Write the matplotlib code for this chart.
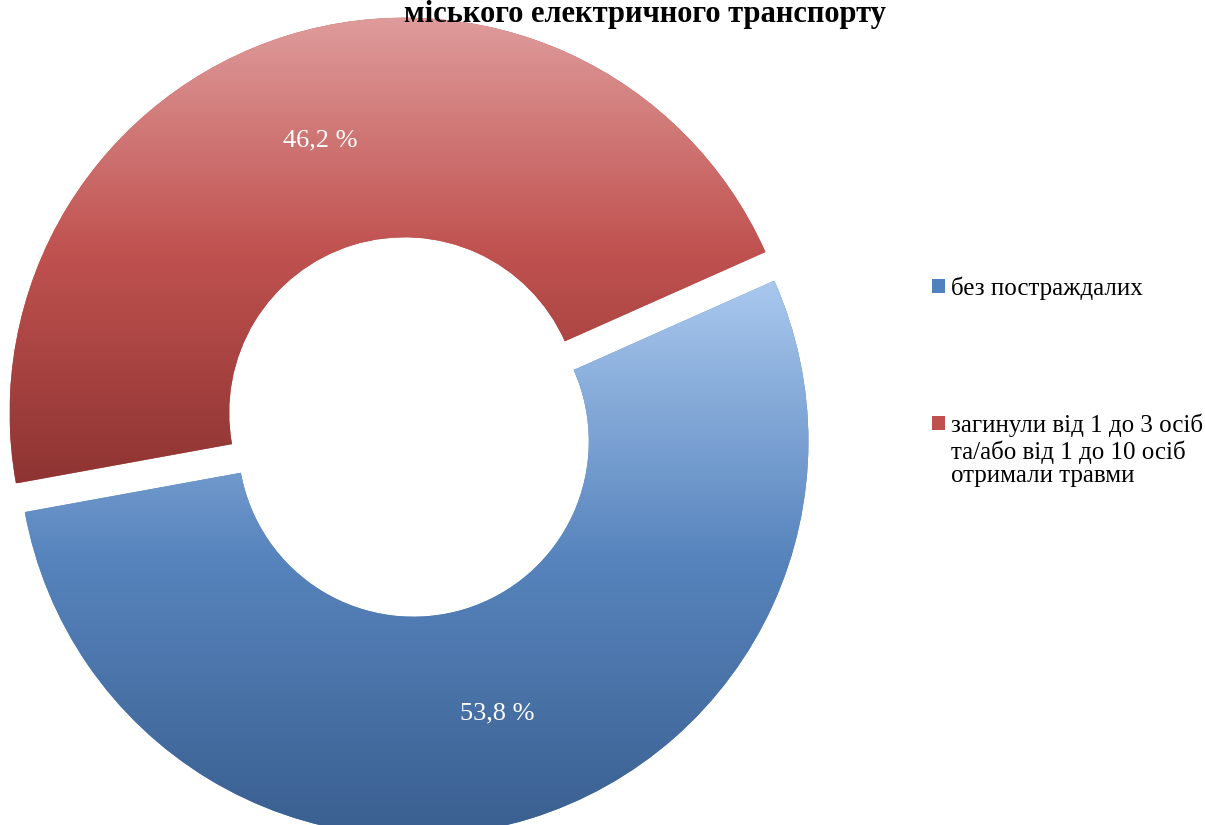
import numpy as np
import matplotlib.pyplot as plt
from matplotlib.colors import LinearSegmentedColormap

plt.rcParams['font.family'] = ['Liberation Serif', 'DejaVu Serif']

# Data
labels = ['без постраждалих', 'загинули від 1 до 3 осіб']
label_cont = 'та/або від 1 до 10 осіб\nотримали травми'
shares = [53.8, 46.2]
title = 'міського електричного транспорту'

# gradient colours per slice (bottom -> middle -> top)
grad_colors = [('#3a5f90', '#5784bd', '#a9c8ee'),
               ('#8e3432', '#c05250', '#de9c9b')]
base_colors = ['#4f81bd', '#c0504d']

fig = plt.figure(figsize=(12.05, 8.25), dpi=100)
ax = fig.add_axes([0, 0, 1, 1])

R = 395
cx, cy = 409, 825 - 427

wedges, texts, autotexts = ax.pie(
    shares, center=(cx, cy), radius=R, startangle=24, counterclock=False,
    colors=base_colors, explode=[15, 15],
    wedgeprops=dict(width=R * 0.556, linewidth=0),
    autopct=lambda p: f'{p:.1f} %'.replace('.', ','), pctdistance=0.72,
    textprops=dict(color='white', fontsize=19), frame=True)
ax.set_xlim(0, 1205)
ax.set_ylim(0, 825)
ax.set_aspect('equal')
ax.axis('off')

# vertical gradient shading clipped to each slice
yy = np.linspace(0, 1, 256).reshape(-1, 1)
for w, cols in zip(wedges, grad_colors):
    cmap = LinearSegmentedColormap.from_list('g', list(cols))
    bb = w.get_path().get_extents(w.get_transform()).transformed(ax.transData.inverted())
    im = ax.imshow(yy, cmap=cmap, origin='lower', aspect='auto',
                   extent=[bb.x0, bb.x1, bb.y0, bb.y1], zorder=w.get_zorder() + 0.1)
    im.set_clip_path(w)
for t in autotexts:
    t.set_zorder(5)

# legend
leg = ax.legend(wedges, labels, loc='upper left',
                bbox_to_anchor=(932 / 1205, (825 - 276) / 825),
                frameon=False, fontsize=18, handlelength=0.5, handleheight=0.5,
                handletextpad=0.25, labelspacing=4.55, borderaxespad=0, borderpad=0)
# rest of the multi-line legend entry, hung under its first line
ax.annotate(label_cont, xy=(0, 0), xycoords=leg.get_texts()[1], xytext=(0, -2.5),
            textcoords='offset points', ha='left', va='top', fontsize=18,
            linespacing=1.1, zorder=10)

ax.set_xlim(0, 1205)
ax.set_ylim(0, 825)
ax.text(645, 825 - 22, title, ha='center', va='baseline', fontsize=22, fontweight='bold')

fig.savefig('out.png', dpi=100)
